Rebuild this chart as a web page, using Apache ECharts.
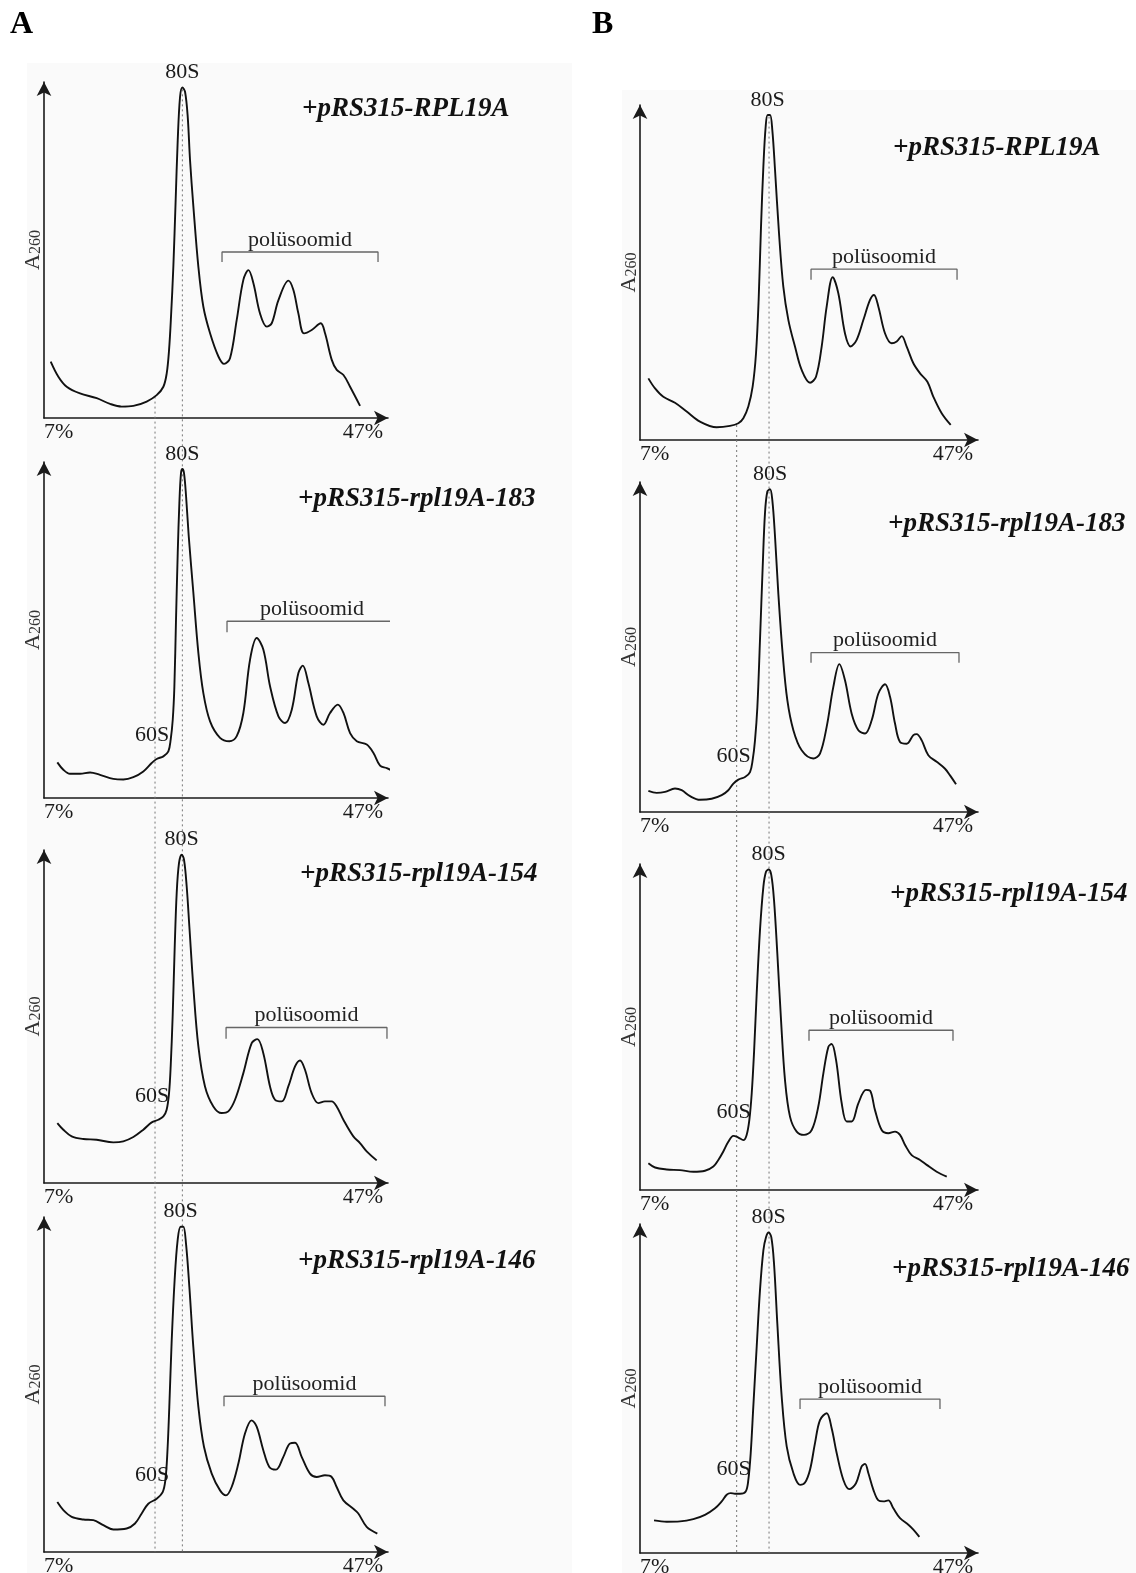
<!DOCTYPE html>
<html>
<head>
<meta charset="utf-8">
<script src="https://cdn.jsdelivr.net/npm/echarts@6/dist/echarts.min.js"></script>
<style>
html, body { margin: 0; padding: 0; background: #fff; }
#chart { width: 1136px; height: 1573px; }
</style>
</head>
<body>
<div id="chart"></div>
<script>
// [sucrose gradient %, A260 (arbitrary units, 0-100 of the axis)]
const profileA1 = [[7.78,16.8],[8.67,12.3],[9.64,9.3],[11.19,7.3],[13.13,5.9],[14.68,4.2],[16.03,3.4],[17.39,3.6],[18.94,4.9],[20.10,6.8],[20.88,9.3],[21.27,13.3],[21.54,20.2],[21.77,30.2],[22.04,45.0],[22.31,64.9],[22.55,82.7],[22.82,95.6],[23.09,98.4],[23.40,97.1],[23.71,89.7],[23.98,76.8],[24.37,62.9],[24.95,45.0],[25.53,33.1],[26.31,25.2],[27.28,18.3],[27.94,16.1],[28.63,17.8],[29.41,29.2],[30.18,41.1],[30.77,44.0],[31.35,40.1],[32.12,31.1],[32.90,27.2],[33.48,28.2],[34.26,35.1],[35.42,40.9],[36.00,38.1],[36.58,31.1],[37.24,25.2],[38.13,26.2],[39.18,28.2],[39.68,25.2],[40.46,17.3],[41.04,14.3],[41.82,12.8],[42.59,9.3],[43.75,3.6]];
const profileA2 = [[8.55,10.6],[9.25,8.4],[10.02,7.2],[11.19,7.2],[12.35,7.6],[13.51,6.9],[15.06,5.7],[16.23,5.5],[17.39,6.2],[18.55,7.9],[19.52,10.4],[20.10,11.6],[20.88,12.4],[21.46,13.9],[21.73,17.4],[21.97,23.3],[22.16,33.2],[22.35,53.1],[22.55,72.9],[22.74,87.8],[22.93,96.7],[23.09,97.9],[23.28,96.7],[23.52,89.8],[23.83,77.9],[24.37,61.0],[24.95,43.2],[25.53,31.2],[26.31,22.8],[27.47,17.9],[28.56,16.9],[29.41,18.4],[30.18,25.3],[30.96,41.2],[31.74,47.6],[32.51,44.1],[33.29,33.2],[34.26,24.3],[35.03,22.3],[35.81,26.3],[36.58,37.2],[37.09,39.4],[37.74,34.2],[38.71,24.3],[39.49,21.8],[40.26,25.3],[41.16,27.8],[41.82,25.3],[42.59,19.3],[43.37,16.9],[44.53,15.9],[45.31,13.4],[46.08,9.6],[46.86,8.9],[47.62,7.9],[48.13,7.2]];
const profileA3 = [[8.55,18.0],[9.25,16.0],[10.22,14.0],[11.57,13.2],[13.12,13.0],[15.06,12.2],[16.22,12.5],[17.39,13.8],[18.55,16.0],[19.52,18.2],[20.29,19.0],[20.88,20.0],[21.26,22.0],[21.54,27.0],[21.73,35.0],[21.96,50.1],[22.19,70.1],[22.43,87.1],[22.70,96.1],[23.01,98.6],[23.28,97.1],[23.59,89.1],[23.90,77.1],[24.36,59.1],[24.95,41.0],[25.72,29.0],[26.69,23.0],[27.66,21.0],[28.43,21.5],[29.21,25.0],[30.18,33.0],[31.15,42.0],[31.81,43.2],[32.50,39.0],[33.28,29.0],[33.86,25.0],[34.64,24.5],[35.41,29.0],[36.19,35.0],[36.77,36.8],[37.35,34.0],[38.12,27.0],[38.90,24.0],[39.67,24.5],[40.45,24.5],[41.03,23.0],[41.81,19.0],[42.97,14.0],[43.74,12.0],[44.52,9.5],[45.68,6.8]];
const profileA4 = [[8.55,14.9],[9.25,12.5],[10.22,10.5],[11.57,9.7],[12.74,9.5],[13.90,8.0],[15.06,6.7],[16.61,7.0],[17.58,8.5],[18.36,11.5],[19.13,14.4],[20.10,15.9],[20.80,17.9],[21.11,21.4],[21.34,29.4],[21.57,43.3],[21.85,63.2],[22.19,81.2],[22.54,93.1],[22.89,97.1],[23.20,97.1],[23.51,92.1],[23.90,79.2],[24.36,61.3],[24.95,43.3],[25.60,31.4],[26.50,23.4],[27.47,18.4],[28.16,16.9],[28.82,19.4],[29.60,26.4],[30.37,35.4],[31.15,39.3],[31.73,37.4],[32.50,30.4],[33.20,25.4],[33.98,24.6],[34.83,28.4],[35.61,32.4],[36.19,32.6],[36.96,28.4],[37.93,23.4],[38.71,22.4],[39.67,22.9],[40.45,22.4],[41.03,19.4],[41.81,15.4],[42.97,12.9],[43.55,11.5],[44.52,7.5],[45.76,5.5]];
const profileB1 = [[7.99,18.4],[8.78,15.4],[9.76,12.9],[11.14,11.1],[12.52,8.5],[14.10,5.5],[16.07,3.8],[17.65,4.2],[18.64,5.0],[19.23,6.5],[19.82,10.0],[20.33,15.9],[20.73,25.9],[21.04,41.8],[21.32,63.7],[21.60,81.6],[21.87,93.5],[22.11,97.0],[22.39,97.0],[22.66,92.5],[22.98,80.6],[23.45,61.7],[23.96,45.8],[24.56,35.8],[25.34,27.9],[26.13,20.9],[27.12,17.1],[27.83,18.9],[28.50,27.9],[29.09,39.8],[29.80,48.6],[30.47,43.8],[31.26,31.8],[31.93,27.9],[32.64,29.9],[33.43,35.8],[34.22,41.8],[34.69,43.3],[35.21,39.8],[36.00,31.8],[36.78,28.9],[37.38,29.4],[37.97,31.0],[38.56,27.9],[39.35,22.9],[40.14,19.9],[41.01,17.4],[41.72,12.9],[42.70,8.0],[43.77,4.5]];
const profileB2 = [[7.99,6.4],[8.97,5.8],[9.96,6.1],[11.14,7.1],[11.93,6.6],[12.92,4.8],[14.10,3.7],[15.48,4.0],[16.67,5.1],[17.45,6.6],[18.05,8.6],[18.64,9.8],[19.43,10.6],[20.02,12.1],[20.33,15.7],[20.61,21.7],[20.89,31.8],[21.20,52.1],[21.52,74.3],[21.79,90.5],[22.07,97.1],[22.39,97.8],[22.66,94.5],[22.98,83.4],[23.37,66.2],[23.88,48.0],[24.44,33.8],[25.15,24.8],[26.13,18.7],[27.51,16.2],[28.30,17.7],[29.09,25.8],[29.88,37.9],[30.59,44.8],[31.26,39.9],[32.05,29.8],[32.84,24.8],[33.63,23.8],[34.42,27.8],[35.21,35.9],[36.00,38.7],[36.59,34.9],[37.18,26.8],[37.77,21.2],[38.56,20.7],[39.35,23.3],[39.74,23.6],[40.34,21.7],[41.12,17.2],[42.11,15.2],[43.10,13.1],[43.69,11.1],[44.40,8.4]];
const profileB3 = [[7.99,8.2],[8.78,6.9],[10.16,6.3],[11.73,6.1],[13.31,5.6],[14.69,5.9],[15.68,7.2],[16.27,9.2],[16.86,11.8],[17.45,14.8],[18.05,16.6],[18.64,16.1],[19.23,15.3],[19.62,16.9],[19.94,21.5],[20.22,29.6],[20.49,41.9],[20.81,60.3],[21.20,79.7],[21.60,93.0],[21.91,97.6],[22.23,98.3],[22.54,96.6],[22.86,88.9],[23.25,72.6],[23.69,52.1],[24.16,33.7],[24.75,22.5],[25.54,17.9],[26.41,16.9],[27.32,18.4],[28.10,25.6],[28.70,35.8],[29.29,43.9],[29.68,44.8],[30.20,39.9],[30.87,26.6],[31.46,21.0],[32.05,21.0],[32.84,26.6],[33.75,30.7],[34.22,30.5],[34.81,24.5],[35.60,18.4],[36.39,17.4],[37.18,17.9],[37.77,16.9],[38.37,13.8],[39.15,10.7],[40.14,9.2],[40.93,7.7],[42.11,5.6],[43.30,4.1]];
const profileB4 = [[8.66,9.9],[10.16,9.5],[11.73,9.6],[13.31,10.3],[14.69,11.6],[15.88,13.6],[16.67,15.7],[17.26,17.7],[17.73,18.2],[18.24,18.0],[18.84,18.0],[19.51,18.7],[19.82,22.2],[20.10,30.3],[20.41,44.5],[20.81,62.7],[21.20,79.9],[21.60,92.0],[21.91,96.0],[22.23,97.4],[22.54,96.0],[22.86,88.0],[23.25,69.8],[23.77,47.5],[24.36,32.4],[25.15,24.3],[25.94,20.7],[26.53,21.4],[27.12,25.3],[27.71,33.4],[28.30,40.4],[29.09,42.5],[29.68,37.9],[30.28,30.3],[31.07,22.2],[31.77,19.4],[32.56,21.2],[33.23,26.3],[33.63,27.1],[34.02,24.3],[34.62,19.2],[35.21,16.0],[35.80,15.7],[36.39,16.0],[36.98,13.6],[37.77,10.6],[38.76,8.6],[39.35,7.1],[40.06,4.9]];

// polysome bracket: [from %, to %, bracket level, tick end]
const polyA1 = [27.70, 45.84, 49.4, 46.4];
const polyA2 = [28.28, 48.05, 52.6, 49.3];
const polyA3 = [28.17, 46.88, 46.7, 43.3];
const polyA4 = [27.93, 46.65, 46.5, 43.5];
const polyB1 = [27.24, 44.52, 51.0, 47.8];
const polyB2 = [27.24, 44.75, 48.3, 45.2];
const polyB3 = [27.00, 44.04, 49.0, 45.8];
const polyB4 = [25.94, 42.50, 46.8, 43.8];

const titles = ['+pRS315-RPL19A', '+pRS315-rpl19A-183', '+pRS315-rpl19A-154', '+pRS315-rpl19A-146'];
const xTicks = [7, 47];
// dotted guide lines (position in %, top of line as % of column height)
const line80A = [23.09, 99.5], line60A = [19.91, 78.6];
const line80B = [22.27, 99.2], line60B = [18.44, 77.9];

const serif = "'Liberation Serif', 'DejaVu Serif', serif";
const ink = '#1a1a1a';

const panels = [
  { prof: profileA1, poly: polyA1, title: titles[0], has60: false, line60: line60A[0], left: 44, width: 344, top: 82, height: 336, tl: 302, tt: 96 },
  { prof: profileA2, poly: polyA2, title: titles[1], has60: true, line60: line60A[0], left: 44, width: 344, top: 462, height: 336, tl: 298, tt: 486 },
  { prof: profileA3, poly: polyA3, title: titles[2], has60: true, line60: line60A[0], left: 44, width: 344, top: 850, height: 333, tl: 300, tt: 861 },
  { prof: profileA4, poly: polyA4, title: titles[3], has60: true, line60: line60A[0], left: 44, width: 344, top: 1217, height: 335, tl: 298, tt: 1248 },
  { prof: profileB1, poly: polyB1, title: titles[0], has60: false, line60: line60B[0], left: 640, width: 338, top: 105, height: 335, tl: 893, tt: 135 },
  { prof: profileB2, poly: polyB2, title: titles[1], has60: true, line60: line60B[0], left: 640, width: 338, top: 482, height: 330, tl: 888, tt: 511 },
  { prof: profileB3, poly: polyB3, title: titles[2], has60: true, line60: line60B[0], left: 640, width: 338, top: 864, height: 326, tl: 890, tt: 881 },
  { prof: profileB4, poly: polyB4, title: titles[3], has60: true, line60: line60B[0], left: 640, width: 338, top: 1224, height: 329, tl: 892, tt: 1256 }
];

const peakOf = d => d.reduce((m, p) => (p[1] > m[1] ? p : m));
const valueAt = (d, x) => {
  for (let i = 1; i < d.length; i++) {
    if (d[i][0] >= x) {
      const [x0, y0] = d[i - 1], [x1, y1] = d[i];
      return y0 + (y1 - y0) * (x - x0) / (x1 - x0);
    }
  }
  return d[d.length - 1][1];
};

const grid = [], xAxis = [], yAxis = [], series = [], title = [];

const arrowLine = { show: true, symbol: ['none', 'arrow'], symbolSize: [11, 14], lineStyle: { color: ink, width: 1.6 } };

panels.forEach((p, i) => {
  grid.push({ left: p.left, top: p.top, width: p.width, height: p.height, outerBoundsMode: 'none' });
  xAxis.push({
    type: 'value', gridIndex: i, min: 7, max: 47,
    axisLine: arrowLine, axisTick: { show: false }, splitLine: { show: false },
    axisLabel: {
      customValues: xTicks, formatter: v => v + '%', alignMinLabel: 'left', alignMaxLabel: 'right',
      fontFamily: serif, fontSize: 22, color: ink, margin: 3, padding: [0, 5, 0, 0]
    }
  });
  yAxis.push({
    type: 'value', gridIndex: i, min: 0, max: 100,
    axisLine: arrowLine, axisTick: { show: false }, axisLabel: { show: false }, splitLine: { show: false },
    name: '{a|A}{s|260}', nameLocation: 'middle', nameGap: 0, nameRotate: 90,
    nameTextStyle: {
      color: '#333', fontFamily: serif,
      rich: { a: { fontSize: 22, fontFamily: serif, color: '#333' }, s: { fontSize: 16, fontFamily: serif, color: '#333', padding: [6, 0, 0, 0] } }
    }
  });

  const pk = peakOf(p.prof);
  const marks = [{ coord: pk, value: '80S', label: { position: 'top', distance: 4 } }];
  if (p.has60) {
    marks.push({ coord: [p.line60, valueAt(p.prof, p.line60)], value: '60S', label: { position: 'top', distance: 14, offset: [-3, 0] } });
  }
  series.push({
    type: 'line', xAxisIndex: i, yAxisIndex: i, data: p.prof, smooth: 0.35, symbol: 'none', clip: false,
    lineStyle: { color: '#111', width: 1.9 }, z: 5,
    markPoint: {
      symbol: 'circle', symbolSize: 0, animation: false,
      label: { show: true, formatter: d => d.value, fontFamily: serif, fontSize: 22, color: ink },
      data: marks
    }
  });

  const [x1, x2, lvl, tick] = p.poly;
  series.push({
    type: 'line', xAxisIndex: i, yAxisIndex: i, symbol: 'none', clip: false,
    data: [[x1, tick], [x1, lvl], [x2, lvl], [x2, tick]],
    lineStyle: { color: '#666', width: 1.3 },
    markPoint: {
      symbol: 'circle', symbolSize: 0, animation: false,
      label: { show: true, position: 'top', distance: 1, formatter: 'polüsoomid', fontFamily: serif, fontSize: 22, color: '#222' },
      data: [{ coord: [(x1 + x2) / 2, lvl] }]
    }
  });

  title.push({
    text: p.title, left: p.tl, top: p.tt, padding: 0,
    textStyle: { fontFamily: serif, fontStyle: 'italic', fontWeight: 'bold', fontSize: 27, color: '#111' }
  });
});

// dotted guide lines across each column
const cols = [
  { left: 44, width: 344, top: 82, height: 1470, l80: line80A, l60: line60A },
  { left: 640, width: 338, top: 105, height: 1448, l80: line80B, l60: line60B }
];
cols.forEach(c => {
  const gi = grid.length;
  grid.push({ left: c.left, top: c.top, width: c.width, height: c.height, outerBoundsMode: 'none' });
  xAxis.push({ type: 'value', gridIndex: gi, min: 7, max: 47, show: false });
  yAxis.push({ type: 'value', gridIndex: gi, min: 0, max: 100, show: false });
  [c.l80, c.l60].forEach(l => {
    series.push({
      type: 'line', xAxisIndex: gi, yAxisIndex: gi, symbol: 'none', silent: true, z: 1,
      data: [[l[0], l[1]], [l[0], 0]],
      lineStyle: { color: '#777', width: 1, type: [2, 3] }
    });
  });
});

title.push({ text: 'A', left: 10, top: 9, padding: 0, textStyle: { fontFamily: serif, fontWeight: 'bold', fontSize: 32, color: '#000' } });
title.push({ text: 'B', left: 592, top: 9, padding: 0, textStyle: { fontFamily: serif, fontWeight: 'bold', fontSize: 32, color: '#000' } });

const myChart = echarts.init(document.getElementById('chart'));
myChart.setOption({
  animation: false,
  backgroundColor: '#fff',
  graphic: [
    { type: 'rect', z: -100, shape: { x: 27, y: 63, width: 545, height: 1510 }, style: { fill: '#fafafa' } },
    { type: 'rect', z: -100, shape: { x: 622, y: 90, width: 514, height: 1483 }, style: { fill: '#fafafa' } }
  ],
  title, grid, xAxis, yAxis, series
});
</script>
</body>
</html>
